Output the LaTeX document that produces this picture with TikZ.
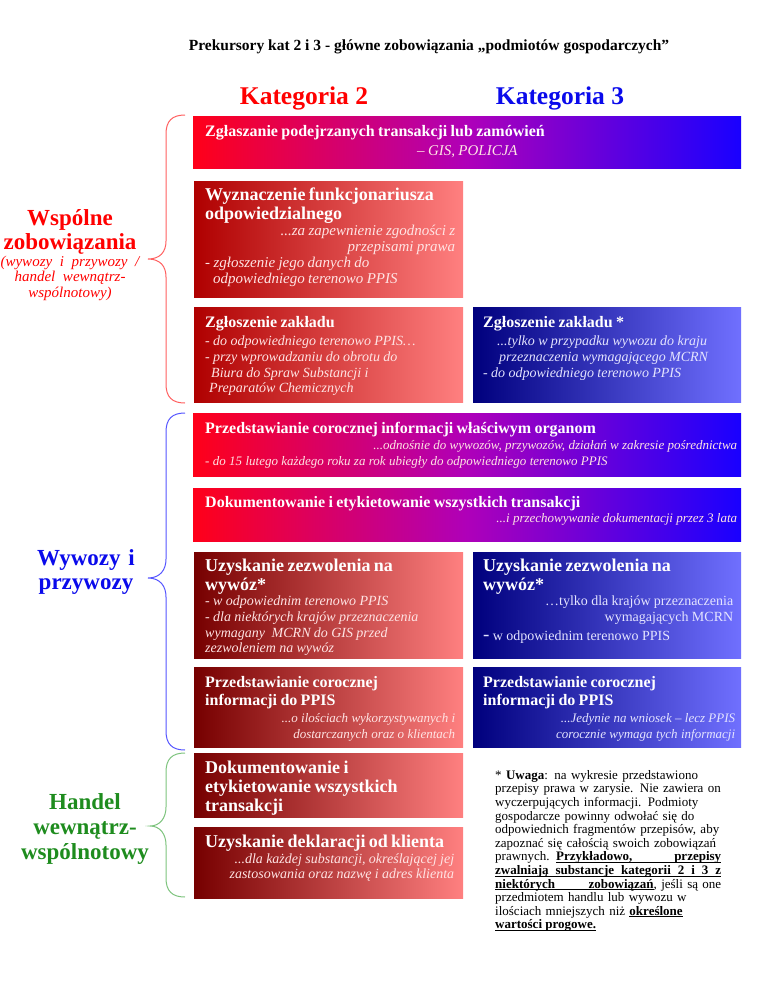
\documentclass[tikz,border=0pt]{standalone}
\usepackage{fontspec}
\setmainfont{Liberation Serif}[BoldFont={Liberation Serif Bold},
  ItalicFont={Liberation Serif Italic}, BoldItalicFont={Liberation Serif Bold Italic}]

\definecolor{katred}{RGB}{255,0,0}
\definecolor{katblue}{RGB}{10,10,235}
\definecolor{handgreen}{RGB}{30,140,30}
\definecolor{gradred}{RGB}{255,0,25}
\definecolor{gradmid}{RGB}{175,0,185}
\definecolor{gradblue}{RGB}{25,0,255}
\definecolor{darkred}{RGB}{175,0,0}
\definecolor{deepred}{RGB}{118,0,0}
\definecolor{palered}{RGB}{255,128,128}
\definecolor{navyblue}{RGB}{0,0,125}
\definecolor{paleblue}{RGB}{112,112,255}
\definecolor{subred}{RGB}{255,228,228}
\definecolor{subblue}{RGB}{228,228,255}
\definecolor{bracered}{RGB}{255,95,95}
\definecolor{braceblue}{RGB}{85,85,255}
\definecolor{bracegreen}{RGB}{125,195,125}

\newcommand\headbig{\fontsize{18}{18.7}\selectfont\bfseries}
\newcommand\headsm{\fontsize{16}{18.5}\selectfont\bfseries}
\newcommand\subwy{\fontsize{15}{16}\selectfont\itshape}
\newcommand\subbig{\fontsize{14}{15.6}\selectfont\itshape}
\newcommand\subsm{\fontsize{13}{15.5}\selectfont\itshape}
\newcommand\tintred{\leavevmode\color{subred}}
\newcommand\tintblue{\leavevmode\color{subblue}}
\newcommand\uword[1]{\leavevmode\setbox0\hbox{#1}\rlap{\rule[-2pt]{\wd0}{0.8pt}}\box0}
\newcommand\uspace{\leaders\hrule height -1.2pt depth 2pt\hskip\fontdimen2\font plus\fontdimen3\font minus\fontdimen4\font\relax}

\tikzset{
  wide/.style={anchor=north west, inner sep=0pt, minimum width=548pt,
    left color=gradred, right color=gradblue, middle color=gradmid},
  halfred/.style={anchor=north west, inner sep=0pt, minimum width=269pt,
    left color=darkred, right color=palered},
  halfblue/.style={anchor=north west, inner sep=0pt, minimum width=268pt,
    left color=navyblue, right color=paleblue},
  boxtext/.style={anchor=north west, inner sep=0pt, text=white},
  lbl/.style={inner sep=0pt, text width=160pt,
    font=\fontsize{23}{24.7}\selectfont\bfseries},
  brc/.style={line width=1pt}
}

\begin{document}
\begin{tikzpicture}[x=1pt,y=-1pt]
  \useasboundingbox (0,0) rectangle (768,994);

  \node[font=\fontsize{15.5}{18}\selectfont\bfseries] (tytul) at (429,47)
    {Prekursory kat 2 i 3 - główne zobowiązania „podmiotów gospodarczych”};
  \node[font=\fontsize{25.5}{28}\selectfont\bfseries, text=katred] (kat2) at (304,98) {Kategoria 2};
  \node[font=\fontsize{25.5}{28}\selectfont\bfseries, text=katblue] (kat3) at (560,98) {Kategoria 3};

  \node[wide, minimum height=52pt] (zglasz) at (193,116) {};
  \node[halfred, minimum height=116pt] (wyzn) at (194,181) {};
  \node[halfred, minimum height=95pt] (zaklR) at (194,307) {};
  \node[halfblue, minimum height=95pt] (zaklB) at (473,307) {};
  \node[wide, minimum height=63pt] (roczna) at (193,413) {};
  \node[wide, minimum height=53pt] (dokum) at (193,488) {};
  \node[halfred, left color=deepred, minimum height=106pt] (zezwR) at (194,552) {};
  \node[halfblue, minimum height=106pt] (zezwB) at (473,552) {};
  \node[halfred, left color=deepred, minimum height=80pt] (ppisR) at (194,667) {};
  \node[halfblue, minimum height=80pt] (ppisB) at (473,667) {};
  \node[halfred, left color=deepred, minimum height=64pt] (dokR) at (194,753) {};
  \node[halfred, left color=deepred, minimum height=71pt] (deklR) at (194,827) {};

  \node[boxtext, text width=532pt] (zglasz-t) at ([xshift=12pt,yshift=-9pt]zglasz.north west)
    {\raggedright{\headsm Zgłaszanie podejrzanych transakcji lub zamówień\par}\vspace{3.5pt}
     {\subwy\tintred\hspace*{212pt}– GIS, POLICJA\par}};
  \node[boxtext, text width=250pt] (wyzn-t) at ([xshift=11pt,yshift=-7pt]wyzn.north west)
    {\raggedright{\headbig Wyznaczenie funkcjonariusza\\ odpowiedzialnego\par}
     {\raggedleft\subwy\tintred ...za zapewnienie zgodności z\\ przepisami prawa\par}
     {\subwy\tintred - zgłoszenie jego danych do\\ \hspace*{8pt}odpowiedniego terenowo PPIS\par}};
  \node[boxtext, text width=250pt] (zaklR-t) at ([xshift=11pt,yshift=-9pt]zaklR.north west)
    {\raggedright{\headsm Zgłoszenie zakładu\par}\vspace{3pt}
     {\subbig\tintred - do odpowiedniego terenowo PPIS…\\ - przy wprowadzaniu do obrotu do\\
      \hspace*{6pt}Biura do Spraw Substancji i\\ \hspace*{4pt}Preparatów Chemicznych\par}};
  \node[boxtext, text width=250pt] (zaklB-t) at ([xshift=10pt,yshift=-9pt]zaklB.north west)
    {\raggedright{\headsm Zgłoszenie zakładu *\par}\vspace{3pt}
     {\subbig\tintblue\hspace*{14pt}...tylko w przypadku wywozu do kraju\\
      \hspace*{16pt}przeznaczenia wymagającego MCRN\\ - do odpowiedniego terenowo PPIS\par}};
  \node[boxtext, text width=532pt] (roczna-t) at ([xshift=12pt,yshift=-9pt]roczna.north west)
    {\raggedright{\headsm Przedstawianie corocznej informacji właściwym organom\par}\vspace{1pt}
     {\raggedleft\subsm\tintred ...odnośnie do wywozów, przywozów, działań w zakresie pośrednictwa\par}
     {\subsm\tintred - do 15 lutego każdego roku za rok ubiegły do odpowiedniego terenowo PPIS\par}};
  \node[boxtext, text width=532pt] (dokum-t) at ([xshift=12pt,yshift=-8pt]dokum.north west)
    {\raggedright{\headsm Dokumentowanie i etykietowanie wszystkich transakcji\par}
     {\raggedleft\subsm\tintred ...i przechowywanie dokumentacji przez 3 lata\par}};
  \node[boxtext, text width=250pt] (zezwR-t) at ([xshift=11pt,yshift=-7pt]zezwR.north west)
    {\raggedright{\headbig Uzyskanie zezwolenia na\\ wywóz*\par}
     {\subbig\tintred - w odpowiednim terenowo PPIS\\ - dla niektórych krajów przeznaczenia\\
      wymagany\ \ MCRN do GIS przed\\ zezwoleniem na wywóz\par}};
  \node[boxtext, text width=250pt] (zezwB-t) at ([xshift=10pt,yshift=-7pt]zezwB.north west)
    {\raggedright{\headbig Uzyskanie zezwolenia na\\ wywóz*\par}
     {\raggedleft\fontsize{14}{15.6}\selectfont\tintblue …tylko dla krajów przeznaczenia\\ wymagających MCRN\par}
     \vspace{3pt}
     {\fontsize{14}{16}\selectfont\tintblue{\fontsize{19}{16}\selectfont -} w odpowiednim terenowo PPIS\par}};
  \node[boxtext, text width=250pt] (ppisR-t) at ([xshift=11pt,yshift=-9pt]ppisR.north west)
    {\raggedright{\headsm Przedstawianie corocznej\\ informacji do PPIS\par}
     {\raggedleft\fontsize{13}{16.5}\selectfont\itshape\tintred ...o ilościach wykorzystywanych i\\ dostarczanych oraz o klientach\par}};
  \node[boxtext, text width=252pt] (ppisB-t) at ([xshift=10pt,yshift=-9pt]ppisB.north west)
    {\raggedright{\headsm Przedstawianie corocznej\\ informacji do PPIS\par}
     {\raggedleft\fontsize{13}{16.5}\selectfont\itshape\tintblue ...Jedynie na wniosek – lecz PPIS\\ corocznie wymaga tych informacji\par}};
  \node[boxtext, text width=250pt] (dokR-t) at ([xshift=11pt,yshift=-8pt]dokR.north west)
    {\raggedright{\headbig Dokumentowanie i\\ etykietowanie wszystkich\\ transakcji\par}};
  \node[boxtext, text width=249pt] (deklR-t) at ([xshift=11pt,yshift=-8pt]deklR.north west)
    {\raggedright{\headbig Uzyskanie deklaracji od klienta\par}
     {\raggedleft\subbig\tintred ...dla każdej substancji, określającej jej\\ zastosowania oraz nazwę i adres klienta\par}};

  \node[lbl, text=katred, anchor=north] (wspolne) at (70,209)
    {\centering Wspólne\\ zobowiązania\par\vspace{1pt}
     {\fontsize{15}{15.5}\selectfont\mdseries\itshape (wywozy i przywozy /\\ handel wewnątrz-\\ wspólnotowy)\par}};
  \node[lbl, text=katblue] (wywozy) at (86,572) {\centering Wywozy i\\ przywozy\par};
  \node[lbl, text=handgreen] (handel) at (85,829) {\centering Handel\\ wewnątrz-\\ wspólnotowy\par};

  \draw[brc, bracered] (185,115) .. controls (172,115) and (166,121) .. (166,134) -- (166,241)
    .. controls (166,252) and (160,259) .. (148,259) .. controls (160,259) and (166,266) .. (166,277)
    -- (166,384) .. controls (166,397) and (172,403) .. (185,403);
  \draw[brc, braceblue] (185,413) .. controls (172,413) and (166,419) .. (166,432) -- (166,559)
    .. controls (166,570) and (160,578) .. (148,578) .. controls (160,578) and (166,586) .. (166,597)
    -- (166,731) .. controls (166,744) and (172,750) .. (185,750);
  \draw[brc, bracegreen] (185,753) .. controls (172,753) and (166,759) .. (166,772) -- (166,807)
    .. controls (166,818) and (160,826) .. (150,826) .. controls (160,826) and (166,834) .. (166,845)
    -- (166,878) .. controls (166,891) and (172,897) .. (185,897);

  \node[anchor=north west, inner sep=0pt, text width=226pt,
        font=\fontsize{13}{13.6}\selectfont] (uwaga) at (495,770)
    {\makebox[226pt][s]{* \textbf{Uwaga}: na wykresie przedstawiono}\\
     \makebox[226pt][s]{przepisy prawa w zarysie. Nie zawiera on}\\
     \makebox[226pt][s]{wyczerpujących informacji. Podmioty}\\
     \makebox[226pt][s]{gospodarcze powinny odwołać się do}\\
     \makebox[226pt][s]{odpowiednich fragmentów przepisów, aby}\\
     \makebox[226pt][s]{zapoznać się całością swoich zobowiązań}\\
     \makebox[226pt][s]{prawnych. \textbf{\uword{Przykładowo,}\uspace\uword{przepisy}}}\\
     \makebox[226pt][s]{\textbf{\uword{zwalniają}\uspace\uword{substancje}\uspace\uword{kategorii}\uspace\uword{2}\uspace\uword{i}\uspace\uword{3}\uspace\uword{z}}}\\
     \makebox[226pt][s]{\textbf{\uword{niektórych}\uspace\uword{zobowiązań}}, jeśli są one}\\
     \makebox[226pt][s]{przedmiotem handlu lub wywozu w}\\
     \makebox[226pt][s]{ilościach mniejszych niż \textbf{\uword{określone}}}\\
     \textbf{\uword{wartości}\uspace\uword{progowe.}}};
\end{tikzpicture}
\end{document}
